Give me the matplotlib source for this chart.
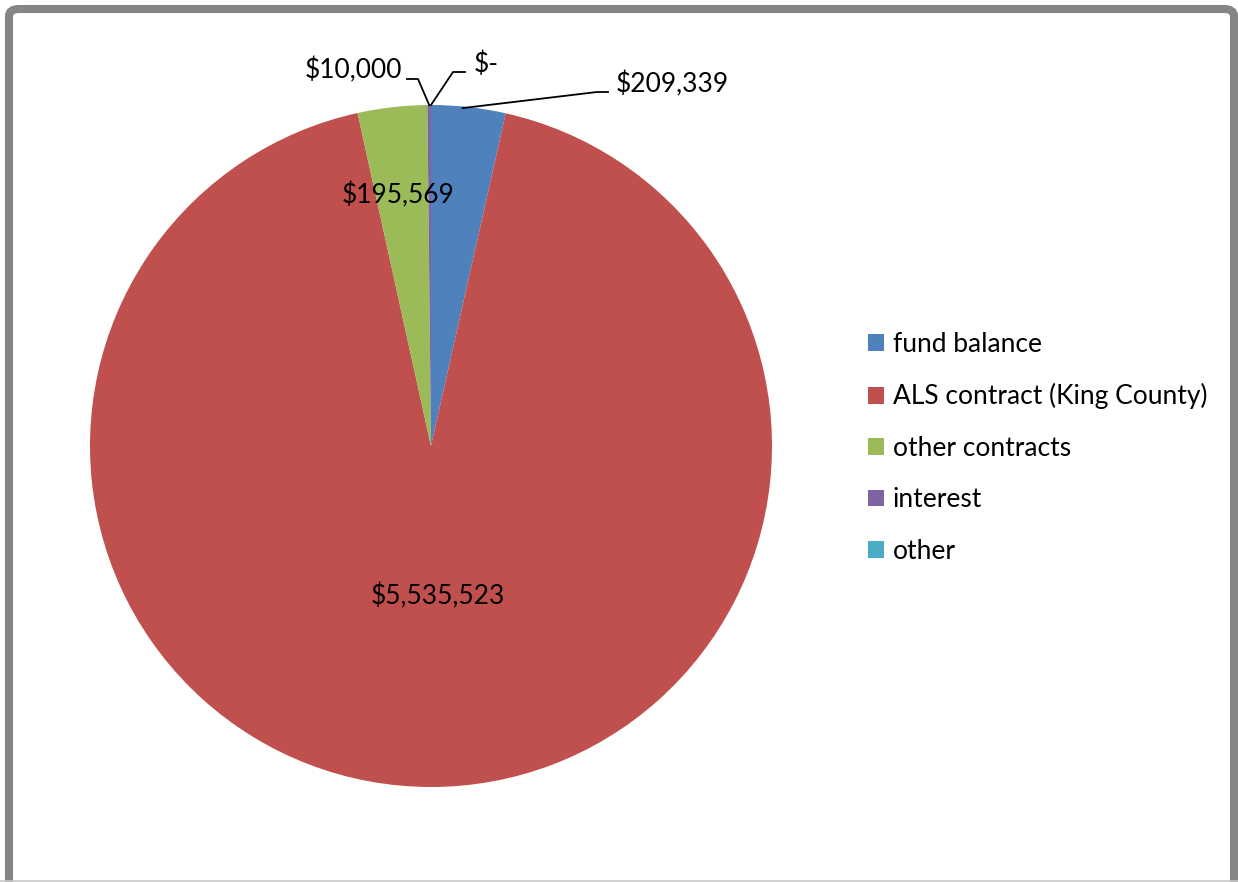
import numpy as np
import matplotlib.pyplot as plt
from matplotlib.patches import FancyBboxPatch, Patch

plt.rcParams['font.family'] = ['Lato', 'DejaVu Sans']

# Revenue sources
categories = ['fund balance', 'ALS contract (King County)', 'other contracts', 'interest', 'other']
amounts = [209339, 5535523, 195569, 10000, 0]
colors = ['#4F81BD', '#C0504D', '#9BBB59', '#8064A2', '#4BACC6']


def money(v):
    return '$-' if v == 0 else '${:,.0f}'.format(v)


W, H = 1238, 882
fig = plt.figure(figsize=(W / 100, H / 100), dpi=100)
ax = fig.add_axes([0, 0, 1, 1])

cx, cy, r = 431, H - 446, 341
wedges, _ = ax.pie(amounts, colors=colors, startangle=90, counterclock=False,
                   center=(cx, cy), radius=r, wedgeprops=dict(linewidth=0))
ax.set_xlim(0, W)
ax.set_ylim(0, H)
ax.set_aspect('equal')
ax.axis('off')


def mid_point(w, frac):
    a = np.deg2rad((w.theta1 + w.theta2) / 2)
    return cx + frac * r * np.cos(a), cy + frac * r * np.sin(a)


# labels inside the two larger slices
for i, frac, dx in [(1, 0.44, 7), (2, 0.74, -4)]:
    x, y = mid_point(wedges[i], frac)
    ax.text(x + dx, y, money(amounts[i]), ha='center', va='center', fontsize=19)

# outside labels with leader lines: slice, elbow, line end, text anchor
outside = [(0, (597, H - 92), (608, H - 92), (616, H - 84), 'left'),
           (3, (418, H - 79), (407, H - 79), (402, H - 70), 'right'),
           (4, (453, H - 72), (465, H - 72), (474, H - 64), 'left')]
for i, elbow, end, txt, ha in outside:
    ex, ey = mid_point(wedges[i], 1.0)
    if i == 0:
        ex, ey = ex - 6, ey - 1
    ax.plot([ex, elbow[0], end[0]], [ey, elbow[1], end[1]], color='black', lw=1.3)
    ax.text(txt[0], txt[1], money(amounts[i]), ha=ha, va='center', fontsize=19)

handles = [Patch(facecolor=c, edgecolor='none') for c in colors]
leg = ax.legend(handles, categories, loc='upper left', bbox_to_anchor=(868 / W, 1 - 332 / H),
                frameon=False, fontsize=19, handlelength=0.6, handleheight=0.6,
                handletextpad=0.33, labelspacing=1.0, borderaxespad=0, borderpad=0)

# chart border
fig.patches.append(FancyBboxPatch((9 / W, -10 / H), 1225 / W, 883 / H,
                                  boxstyle='round,pad=0,rounding_size=0.008',
                                  transform=fig.transFigure, fill=False,
                                  edgecolor='#858585', linewidth=5.8))
fig.add_artist(plt.Line2D([0, 1], [1.5 / H, 1.5 / H], transform=fig.transFigure,
                          color='#c8c8c8', lw=1.2))

fig.savefig('out.png', dpi=100)
